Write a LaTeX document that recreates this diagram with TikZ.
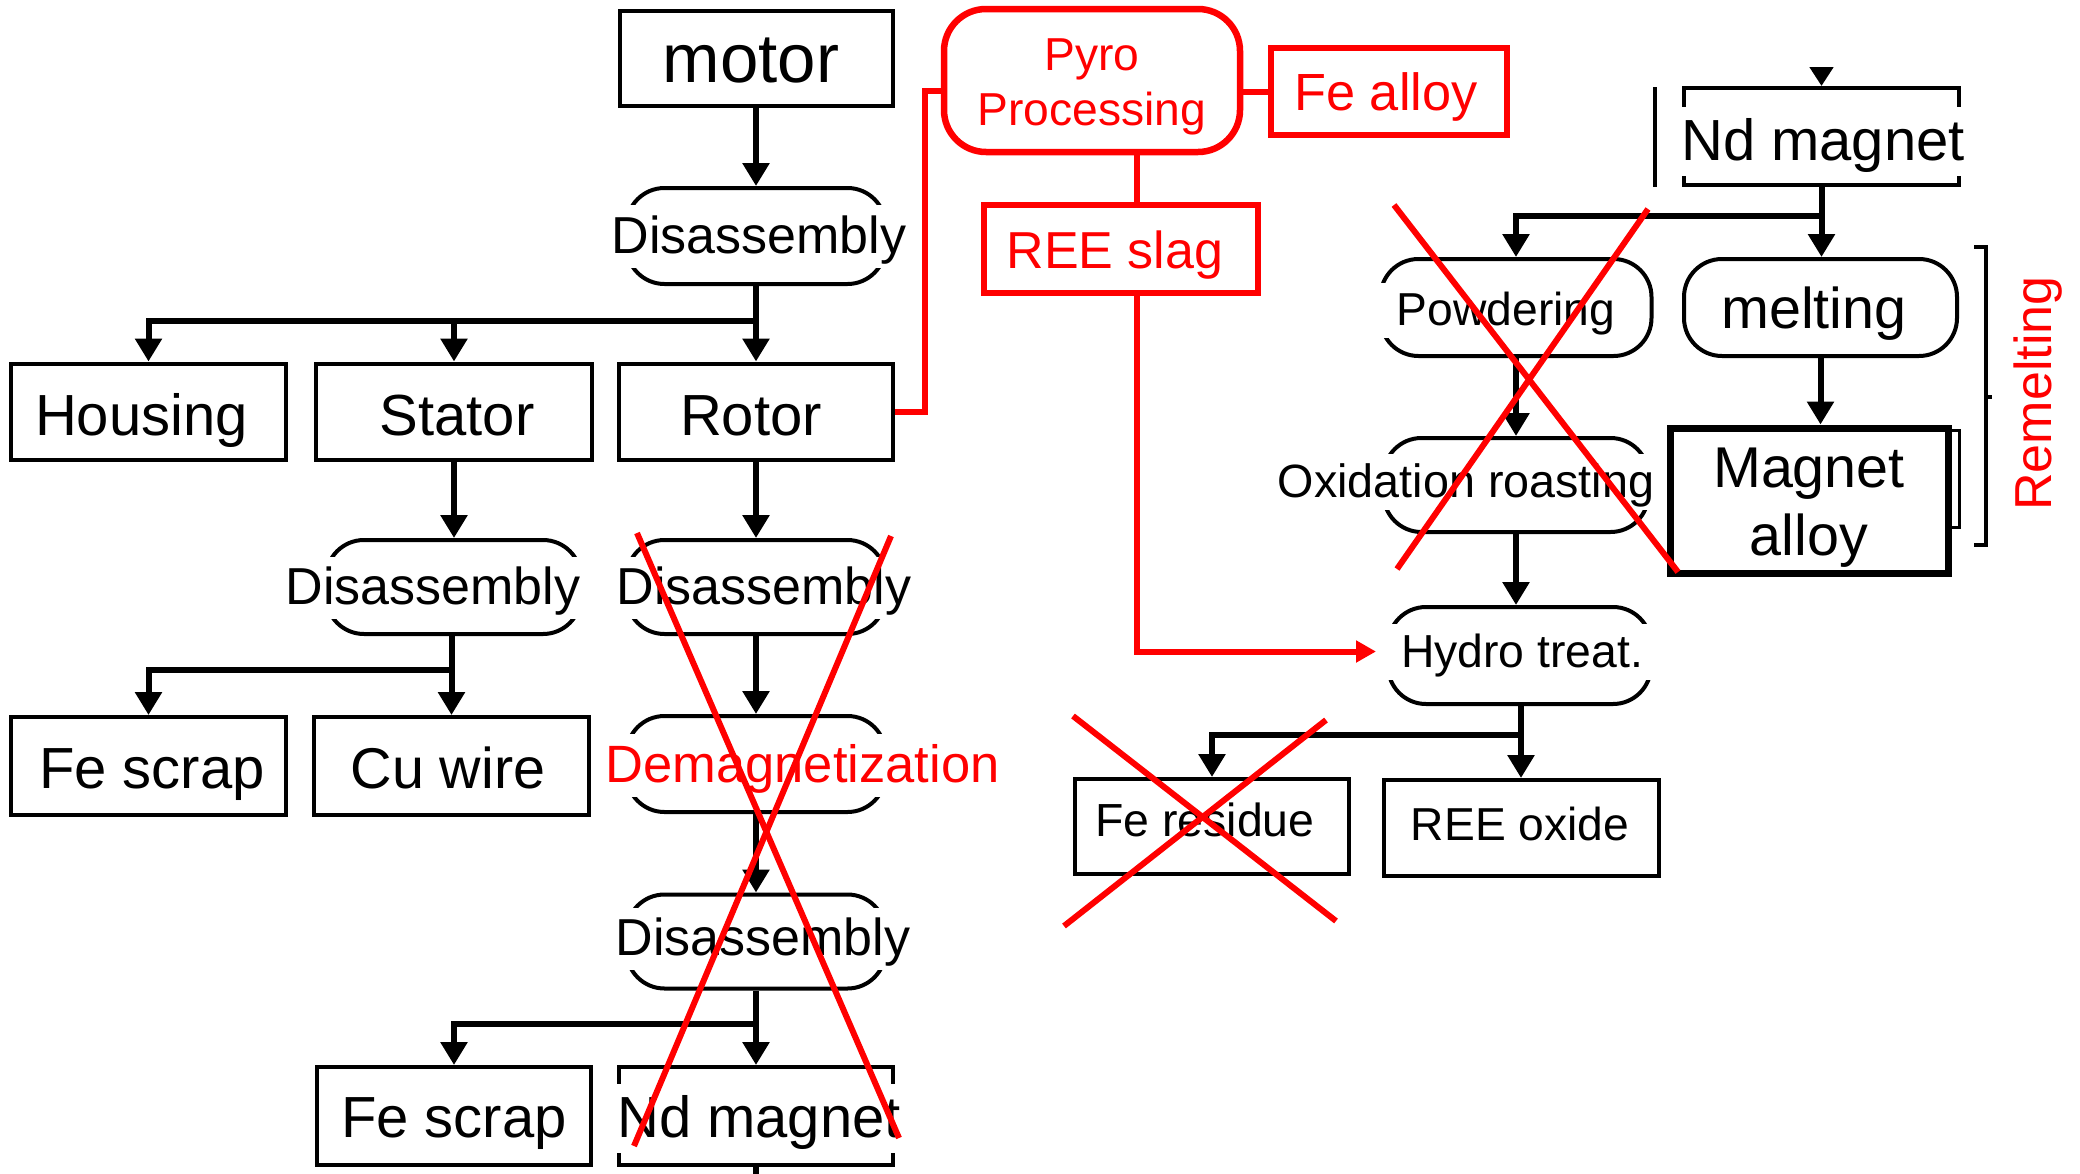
\documentclass[tikz,border=0pt]{standalone}
\usepackage{fontspec}
\setmainfont{Liberation Sans}
\usetikzlibrary{arrows.meta}
\definecolor{pred}{RGB}{255,0,0}

\tikzset{
  ln/.style={line width=6pt},
  bord/.style={line width=4pt},
  arr/.style={ln, -{Triangle[length=23pt,width=26pt]}},
  boxn/.style={draw, bord, rectangle, inner sep=0pt},
  stad/.style={draw, bord, rectangle, rounded corners=38pt, inner sep=0pt},
  rbox/.style={draw=pred, line width=6.5pt, rectangle, inner sep=0pt},
  rln/.style={draw=pred, line width=6pt},
  cross/.style={draw=pred, line width=6pt},
  lbl/.style={font=\fontsize{#1}{#1}\selectfont, fill=white, inner xsep=4pt,
    inner ysep=0pt, anchor=base,
    execute at begin node={\rule[-0.28em]{0pt}{1.2em}}},
  plain/.style={font=\fontsize{#1}{#1}\selectfont, inner sep=0pt, anchor=base},
}

\begin{document}
\begin{tikzpicture}[x=1pt, y=-1pt]
\useasboundingbox (0,0) rectangle (2080,1173);

% ---------- motor dismantling tree ----------
\node[boxn, minimum width=273pt, minimum height=95pt] (motor) at (756,58.5) {};
\node[stad, minimum width=259pt, minimum height=96pt] (dis1) at (756,236) {};
\node[boxn, minimum width=275pt, minimum height=96pt] (housing) at (148.5,411.5) {};
\node[boxn, minimum width=276pt, minimum height=96pt] (stator) at (454,411.5) {};
\node[boxn, minimum width=274pt, minimum height=96pt] (rotor) at (756,411.5) {};
\node[stad, minimum width=255pt, minimum height=94pt] (dis2) at (453.5,587) {};
\node[boxn, minimum width=275pt, minimum height=98pt] (fescrapA) at (148.5,766) {};
\node[boxn, minimum width=275pt, minimum height=98pt] (cuwire) at (451.5,766) {};
\node[stad, minimum width=259pt, minimum height=94pt] (dis3) at (756,587) {};
\node[stad, minimum width=259pt, minimum height=96pt] (demag) at (756,764) {};
\node[stad, minimum width=259pt, minimum height=94pt] (dis4) at (756,941.5) {};
\node[boxn, minimum width=274pt, minimum height=98pt] (fescrapB) at (454,1116) {};
\node[boxn, minimum width=274pt, minimum height=98pt] (ndmagB) at (756,1116) {};

\coordinate (j1) at (756,321);
\coordinate (j2) at (451.5,670);
\coordinate (j4) at (756,1024);

\draw[arr] (motor.south) -- (dis1.north);
\draw[arr] (dis1.south) -- (rotor.north);
\draw[ln] (dis1.south) -- (j1);
\draw[arr] (j1) -| (housing.north);
\draw[arr] (j1) -| (stator.north);
\draw[arr] (stator.south) -- (stator.south |- dis2.north);
\draw[arr] (cuwire.north |- dis2.south) -- (cuwire.north);
\draw[arr] (j2) -| (fescrapA.north);
\draw[arr] (rotor.south) -- (dis3.north);
\draw[arr] (dis3.south) -- (demag.north);
\draw[arr] (demag.south) -- (dis4.north);
\draw[arr] (dis4.south) -- (ndmagB.north);
\draw[arr] (j4) -| (fescrapB.north);
\draw[ln] (ndmagB.south) -- ++(0,12);

% ---------- pyro route ----------
\node[rbox, rounded corners=42pt, minimum width=296pt, minimum height=143pt] (pyro) at (1092,80.5) {};
\node[rbox, minimum width=236pt, minimum height=87pt] (fealloy) at (1389,91.5) {};
\node[rbox, minimum width=274pt, minimum height=88pt] (reeslag) at (1121,249) {};
\coordinate (slagx) at (1137,0);

\draw[rln] (rotor.east) -- ++(30,0) |- ([yshift=-10.5pt]pyro.west);
\draw[rln] (pyro.east |- fealloy.west) -- (fealloy.west);
\draw[rln] (pyro.south -| slagx) -- (reeslag.north -| slagx);

% ---------- magnet treatment ----------
\node[boxn, minimum width=275pt, minimum height=97pt] (ndmagA) at (1821.5,136.5) {};
\node[stad, minimum width=271pt, minimum height=97pt] (powder) at (1516,307.5) {};
\node[stad, minimum width=273pt, minimum height=97pt] (melt) at (1820.5,307.5) {};
\node[stad, minimum width=265pt, minimum height=94pt] (oxid) at (1516,485) {};
\node[draw, line width=7pt, rectangle, inner sep=0pt, minimum width=278pt, minimum height=145pt] (alloyb) at (1809,500.5) {};
\node[stad, minimum width=263pt, minimum height=97pt] (hydro) at (1519.5,655.5) {};
\node[boxn, minimum width=274pt, minimum height=95pt] (feres) at (1212,826.5) {};
\node[boxn, minimum width=275pt, minimum height=96pt] (reeox) at (1521,828) {};

\coordinate (ndin) at (1821.5,69);
\coordinate (j3) at (1821.5,216);
\coordinate (j5) at (1521,735);

\draw[ln, -{Triangle[length=19pt,width=23pt]}] (ndin) -- (ndmagA.north);
\draw[arr] (ndmagA.south) -- (ndmagA.south |- melt.north);
\draw[arr] (j3) -| (powder.north);
\draw[arr] (powder.south) -- (oxid.north);
\draw[arr] (oxid.south) -- (oxid.south |- hydro.north);
\draw[arr] (melt.south) -- (melt.south |- alloyb.north);
\draw[arr] (reeox.north |- hydro.south) -- (reeox.north);
\draw[arr] (j5) -| (feres.north);

\draw[rln, -{Triangle[length=20pt,width=21pt]}, shorten >=10pt]
  (reeslag.south -| slagx) |- ([yshift=4pt]hydro.west);

% side marks and the remelting bracket
\draw[line width=3.5pt] (1655,87) -- (1655,187);
\draw[line width=3pt] (1948,430) -| (1959,527) -- (1948,527);
\draw[line width=4pt] (1974,247) -| (1986,545) -- (1974,545);
\draw[line width=4pt] (1986,397) -- (1992,397);

% ---------- labels ----------
\node[lbl=69] (tmotor) at (751,82) {motor};
\node[lbl=52] (tdis1) at (759,253) {Disassembly};
\node[lbl=58] (thousing) at (141.5,435) {Housing};
\node[lbl=58] (tstator) at (457,435) {Stator};
\node[lbl=58] (trotor) at (751,435) {Rotor};
\node[lbl=52, inner xsep=6pt] (tdis2) at (433,604.5) {Disassembly};
\node[lbl=58] (tfescrapA) at (152,788) {Fe scrap};
\node[lbl=57.5] (tcuwire) at (448,788) {Cu wire};
\node[lbl=52] (tdis3) at (764,604.5) {Disassembly};
\node[lbl=52.5, text=pred] (tdemag) at (802.5,782) {Demagnetization};
\node[lbl=52] (tdis4) at (763,955.5) {Disassembly};
\node[lbl=58] (tfescrapB) at (454,1137) {Fe scrap};
\node[lbl=58] (tndmagB) at (759,1137) {Nd magnet};

\node[plain=46.2, text=pred] (tpyro) at (1092,70)
  {\fontsize{46.2}{55}\selectfont\begin{tabular}[t]{@{}c@{}}Pyro\\Processing\end{tabular}};
\node[lbl=52.3, text=pred] (tfealloy) at (1386,110.5) {Fe alloy};
\node[lbl=52, text=pred] (treeslag) at (1115,268) {REE slag};

\node[lbl=58] (tndmagA) at (1823,160) {Nd magnet};
\node[lbl=46.2] (tpowder) at (1497,325) {\hspace*{18pt}Powdering};
\node[lbl=57.5] (tmelt) at (1814,328) {melting};
\node[lbl=46.7] (toxid) at (1466,497) {Oxidation roasting};
\node[plain=57.5] (talloy) at (1809,487)
  {\fontsize{57.5}{68}\selectfont\begin{tabular}[t]{@{}c@{}}Magnet\\alloy\end{tabular}};
\node[lbl=46.3, inner xsep=19pt] (thydro) at (1522,667) {Hydro treat.};
\node[lbl=46.4] (tferes) at (1205,836) {Fe residue};
\node[lbl=46.2] (treeox) at (1520,840) {REE oxide};
\node[font=\fontsize{52}{52}\selectfont, text=pred, rotate=90, inner sep=0pt] (tremelt) at (2038,393.5) {Remelting};

% ---------- crossed-out routes ----------
\draw[cross] (637,533) -- (899,1138);
\draw[cross] (891,536) -- (634,1146);
\draw[cross] (1394,205) -- (1678,572);
\draw[cross] (1648,209) -- (1397,569);
\draw[cross] (1073,716) -- (1336,921);
\draw[cross] (1326,720) -- (1064,926);
\end{tikzpicture}
\end{document}
